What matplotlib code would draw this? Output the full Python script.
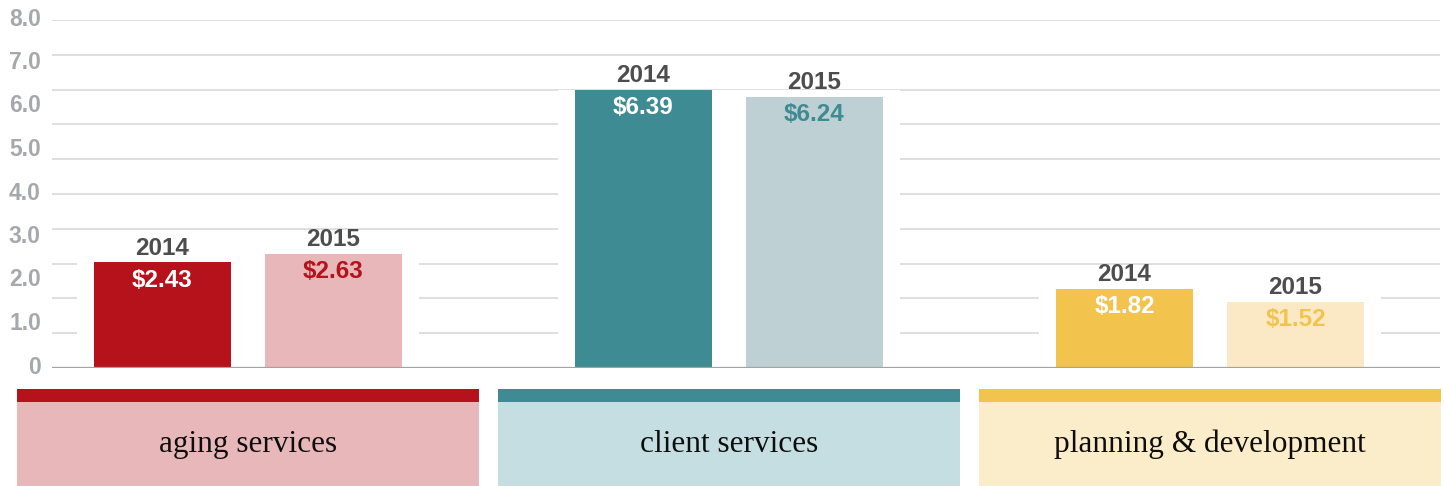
import matplotlib
matplotlib.use("Agg")
import matplotlib.pyplot as plt
import matplotlib.transforms as mtransforms
import numpy as np

# ---- data ----
categories = ["aging services", "client services", "planning & development"]
years = ["2014", "2015"]
values_2014 = [2.43, 6.39, 1.82]
values_2015 = [2.63, 6.24, 1.52]
ytick_values = [0, 1, 2, 3, 4, 5, 6, 7, 8]
ytick_labels = ["0", "1.0", "2.0", "3.0", "4.0", "5.0", "6.0", "7.0", "8.0"]

dark_colors = ["#b5121b", "#3e8b94", "#f2c44e"]
light_colors = ["#e8b7b9", "#bfd0d4", "#fbe9c6"]
band_colors = ["#e8b7b9", "#c5dee2", "#fbedc9"]

W, H = 1444, 486
fig = plt.figure(figsize=(W / 100, H / 100), dpi=100)
fig.patch.set_facecolor("white")

# main axes: x 52..1440 px, y 20..368 px (from top)
unit = 481.0
c0 = 248.0
ax = fig.add_axes([52 / W, (H - 368) / H, (1440 - 52) / W, 348 / H])
ax.set_xlim(-(c0 - 52) / unit, (1440 - c0) / unit)
ax.set_ylim(0, 8)
for s in ax.spines.values():
    s.set_visible(False)

x = np.arange(len(categories))
bw = 137 / unit
off = 85.5 / unit

# gridlines
for g in np.linspace(0, 8, 11)[1:]:
    ax.axhline(g, color="#dcdcdc", lw=1.3, zorder=1)

# white masks behind each group
gmax = [max(a, b) for a, b in zip(values_2014, values_2015)]
ax.bar(x, gmax, width=342 / unit, color="white", zorder=2)

b1 = ax.bar(x - off, values_2014, width=bw, color=dark_colors, zorder=3)
b2 = ax.bar(x + off, values_2015, width=bw, color=light_colors, zorder=3)

ax.axhline(0, color="#a3a3a3", lw=1.6, zorder=4)

lab_font = dict(family=["Liberation Sans", "DejaVu Sans"], fontweight="bold", fontsize=17.5)
for i in range(len(categories)):
    for xv, v, vcol in [(x[i] - off, values_2014[i], "white"),
                        (x[i] + off, values_2015[i], dark_colors[i])]:
        yr = "2014" if vcol == "white" else "2015"
        ax.annotate(yr, (xv, v), xytext=(0, 5.5), textcoords="offset points",
                    ha="center", va="baseline", color="#4d4d4d", zorder=5, **lab_font)
        ax.annotate(f"${v:.2f}", (xv, v), xytext=(0, -17.5), textcoords="offset points",
                    ha="center", va="baseline", color=vcol, zorder=5, **lab_font)

ax.set_xticks([])
ax.set_yticks(ytick_values)
ax.set_yticklabels(ytick_labels)
ax.tick_params(axis="y", length=0, pad=8, labelcolor="#a6a8ab", labelsize=16.5)
shift = mtransforms.ScaledTranslation(0, 3.5 / 100, fig.dpi_scale_trans)
for t in ax.get_yticklabels():
    t.set_fontweight("bold")
    t.set_family(["Liberation Sans", "DejaVu Sans"])
    t.set_transform(t.get_transform() + shift)

# category bands
bax = fig.add_axes([0, 0, 1, 97 / H])
bax.set_xlim(-c0 / unit, (W - c0) / unit)
bax.set_ylim(0, 97)
bax.axis("off")
bandw = 462 / unit
bax.bar(x, [84] * 3, width=bandw, color=band_colors, bottom=0)
bax.bar(x, [13] * 3, width=bandw, color=dark_colors, bottom=84)
for i, c in enumerate(categories):
    bax.text(x[i], 42, c, ha="center", va="center", fontsize=22.5,
             family=["Liberation Serif", "DejaVu Serif"], color="#0d0d0d")

fig.savefig("out.png", dpi=100, facecolor="white")
